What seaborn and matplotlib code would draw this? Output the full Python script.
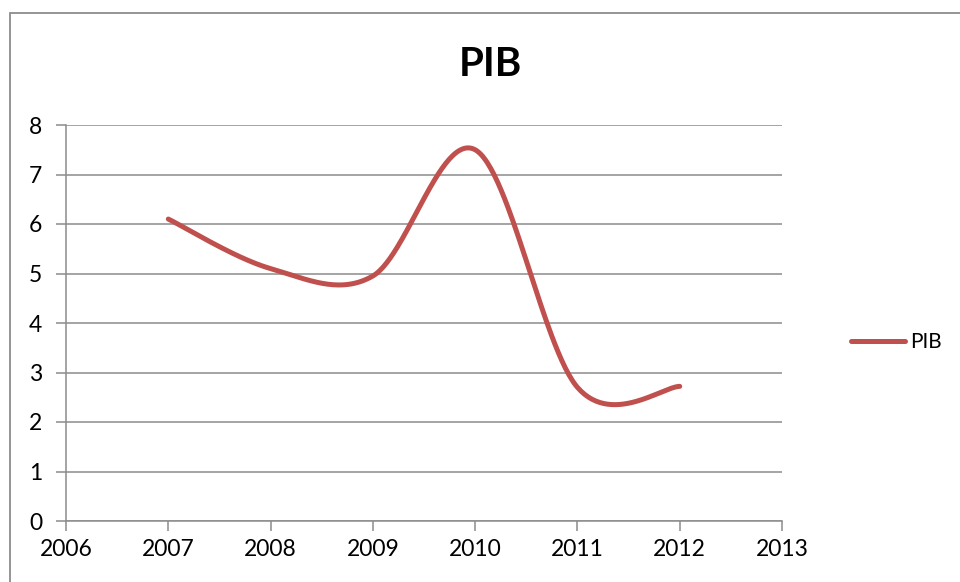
import matplotlib
matplotlib.use("Agg")
import matplotlib.pyplot as plt
import seaborn as sns
import numpy as np
import pandas as pd
from matplotlib.patches import Rectangle

# data
years = [2007, 2008, 2009, 2010, 2011, 2012]
pib = [6.1, 5.1, 4.95, 7.5, 2.7, 2.72]
x_ticks = [2006, 2007, 2008, 2009, 2010, 2011, 2012, 2013]
y_ticks = [0, 1, 2, 3, 4, 5, 6, 7, 8]

LINE_COLOR = "#C0504D"
GRID_COLOR = "#8C8C8C"


def smooth_curve(xs, ys, n=60):
    """Excel-like smoothed line (Catmull-Rom / cubic Bezier through the points)."""
    xs = np.asarray(xs, float)
    ys = np.asarray(ys, float)
    px, py = [], []
    for i in range(len(xs) - 1):
        x0, y0 = xs[max(i - 1, 0)], ys[max(i - 1, 0)]
        x1, y1 = xs[i], ys[i]
        x2, y2 = xs[i + 1], ys[i + 1]
        x3, y3 = xs[min(i + 2, len(xs) - 1)], ys[min(i + 2, len(xs) - 1)]
        c1x, c1y = x1 + (x2 - x0) / 6, y1 + (y2 - y0) / 6
        c2x, c2y = x2 - (x3 - x1) / 6, y2 - (y3 - y1) / 6
        t = np.linspace(0, 1, n)
        bx = (1 - t) ** 3 * x1 + 3 * (1 - t) ** 2 * t * c1x + 3 * (1 - t) * t ** 2 * c2x + t ** 3 * x2
        by = (1 - t) ** 3 * y1 + 3 * (1 - t) ** 2 * t * c1y + 3 * (1 - t) * t ** 2 * c2y + t ** 3 * y2
        px.extend(bx)
        py.extend(by)
    return np.array(px), np.array(py)


sns.set_theme(style="white")
plt.rcParams["font.family"] = ["Lato", "DejaVu Sans"]
plt.rcParams["text.color"] = "black"

fig = plt.figure(figsize=(9.6, 5.82), dpi=100)
ax = fig.add_axes([66 / 960, 1 - 521 / 582, (782 - 66) / 960, (521 - 125) / 582])

sx, sy = smooth_curve(years, pib)
curve = pd.DataFrame({"year": sx, "PIB": sy})
sns.lineplot(data=curve, x="year", y="PIB", ax=ax, color=LINE_COLOR, lw=3.6,
             sort=False, label="PIB", solid_capstyle="round")

ax.set_xlim(x_ticks[0], x_ticks[-1])
ax.set_ylim(y_ticks[0], y_ticks[-1])
ax.set_xticks(x_ticks)
ax.set_yticks(y_ticks)
ax.set_xlabel("")
ax.set_ylabel("")
ax.grid(axis="y", color=GRID_COLOR, lw=1.1)
ax.set_axisbelow(True)

for side in ["top", "right"]:
    ax.spines[side].set_visible(False)
for side in ["left", "bottom"]:
    ax.spines[side].set_color(GRID_COLOR)
    ax.spines[side].set_linewidth(1.1)

ax.tick_params(axis="both", which="major", length=7, width=1.1, color=GRID_COLOR,
               labelsize=16.5, labelcolor="black", direction="out", bottom=True, left=True)
ax.tick_params(axis="x", pad=6)
ax.tick_params(axis="y", pad=10)

fig.text(490 / 960, 1 - 65 / 582, "PIB", ha="center", va="center",
         fontsize=29, fontweight="bold", color="black")

leg = ax.legend(loc="center left", bbox_to_anchor=(0.867, 0.412),
                bbox_transform=fig.transFigure, frameon=False, fontsize=15,
                handlelength=2.6, handletextpad=0.25)

# outer chart border (clipped by the image edge on the right and bottom)
fig.patches.append(Rectangle((10 / 960, -0.2), 1.2, 1.2 - 13 / 582,
                             transform=fig.transFigure, fill=False,
                             edgecolor=GRID_COLOR, lw=1.3))

fig.savefig("out.png", dpi=100)
